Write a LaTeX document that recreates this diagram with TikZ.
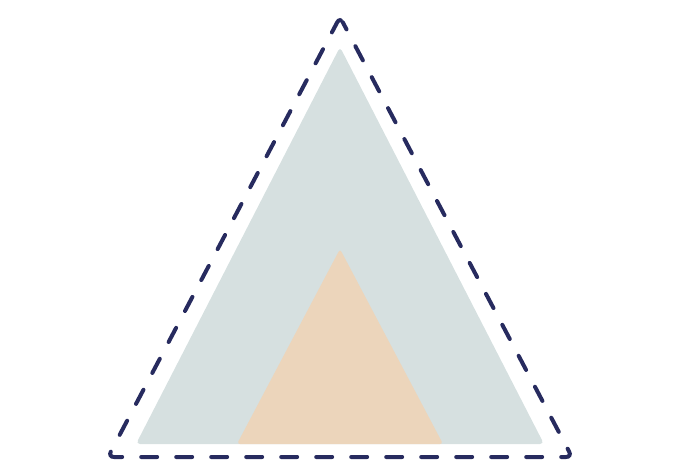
\documentclass[tikz,border=0pt]{standalone}
\usepackage{tikz}
\usetikzlibrary{calc}
\definecolor{navy}{HTML}{272B5F}
\definecolor{slate}{HTML}{D6E0E0}
\definecolor{sand}{HTML}{ECD5BB}
\begin{document}
\begin{tikzpicture}[x=1pt,y=-1pt]
            \useasboundingbox (0,0) rectangle (680,460);

            % Outer region
            \fill[slate, rounded corners=4pt] (340,47) -- (544,444) -- (136,444) -- cycle;

            % Inner region
            \fill[sand, rounded corners=3pt] (340,249) -- (443,444) -- (237,444) -- cycle;

            % Dashed boundary
            \draw[navy, line width=4pt, line cap=round, rounded corners=6pt,
                  dash pattern=on 16pt off 19pt, dash phase=8pt]
                (340,17) -- (572,457) -- (108,457) -- cycle;
        \end{tikzpicture}
\end{document}
